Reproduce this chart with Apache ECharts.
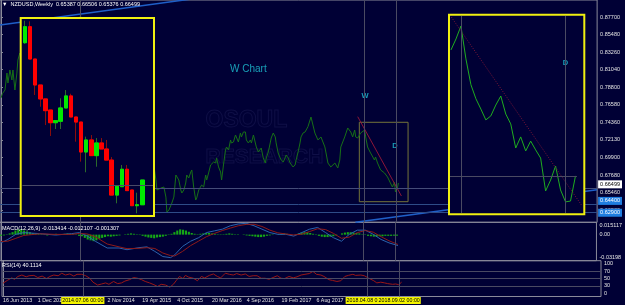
<!DOCTYPE html>
<html><head><meta charset="utf-8">
<script src="https://cdn.jsdelivr.net/npm/echarts@6/dist/echarts.min.js"></script>
<style>html,body{margin:0;padding:0;background:#000035;}#c{width:625px;height:305px;}</style>
</head><body><div id="c"></div>
<script>
// ---------------- DATA ----------------
// main weekly line (week index from 16 Jun 2013, close)
const mainWeeks = [0,1,2.75,4.12,4.81,6.18,7.55,8.24,9.62,10.99,11.68,13.05,
14,16,18,20,22,24,26,28,30,32,34,36,38,40,42,44,46,48,50,52,54,
55,56,57,58,59,60,61,62,63,64,65,66,67,68,69,70,71,72,73,74,75,76,77,78,
80,82,84,86,88,90,92,94,96,98,100,102,104,105.5,
107.1,107.8,110.6,112.6,114.0,114.7,116.1,118.1,119.5,120.9,121.6,122.9,124.3,125.0,126.4,127.7,128.4,129.8,131.2,131.9,
133.2,134.6,135.3,136.7,138.0,138.7,140.1,141.5,142.2,143.5,144.9,145.6,147.0,148.4,149.0,150.4,151.8,152.5,153.8,155.2,
155.9,157.3,158.7,159.3,160.7,162.1,162.8,164.1,165.5,166.2,167.6,169.0,169.6,171.0,172.4,173.1,174.5,175.8,176.5,177.9,
179.9,181.3,182.7,183.4,184.8,186.1,186.8,188.2,189.6,190.2,191.6,193.0,193.7,195.1,196.4,197.1,198.5,199.9,200.5,201.9,
203.3,204.0,205.4,206.7,207.4,208.8,210.2,212.2,214.3,217.0,219.1,221.2,223.9,226.0,228.0,230.8,232.8,234.2,234.9,237.6,
239.7,241.8,243.1,244.5,245.2,246.6,248.6,251.4,252.1,253.4,255.5,258.2,258.9,260.3,262.4,265.1,267.2,269.2,270.6,272.0,
272.7,274.0,274.7];
const mainCloses = [0.7744,0.7800,0.7845,0.8060,0.7934,0.8099,0.7972,0.8099,0.7845,0.8060,0.8225,0.8314,
0.8280,0.8180,0.8250,0.8350,0.8320,0.8250,0.8200,0.8300,0.8050,0.8250,0.8350,0.8300,0.8450,0.8600,0.8550,0.8500,0.8580,0.8650,0.8520,0.8690,0.8700,
0.8798,0.8594,0.8430,0.8342,0.8268,0.8192,0.8205,0.8285,0.8361,0.8228,0.8196,0.8007,0.8083,0.7984,0.8064,0.8026,0.7956,0.7735,0.7792,0.7898,0.7763,0.7668,0.7674,0.7830,
0.7770,0.7600,0.7420,0.7450,0.7380,0.7500,0.7300,0.7550,0.7620,0.7450,0.7120,0.7050,0.7000,0.6920,
0.6705,0.6578,0.6603,0.6616,0.6489,0.6299,0.6325,0.6413,0.6489,0.6768,0.6743,0.6705,0.6578,0.6540,0.6578,0.6667,0.6768,0.6730,0.6806,0.6832,
0.6616,0.6451,0.6477,0.6578,0.6603,0.6641,0.6616,0.6768,0.6705,0.6794,0.6895,0.6870,0.6933,0.6920,0.6984,0.6870,0.6806,0.6705,0.6895,0.7085,
0.7123,0.7085,0.7212,0.7174,0.7186,0.7275,0.7250,0.7186,0.7300,0.7250,0.7313,0.7313,0.7212,0.7174,0.7212,0.7174,0.7275,0.7250,0.7123,0.7060,
0.7110,0.6984,0.6920,0.6984,0.7060,0.7174,0.7237,0.7300,0.7250,0.7174,0.7047,0.6984,0.6958,0.6933,0.6984,0.7022,0.6984,0.6920,0.6933,0.6870,
0.6895,0.6958,0.7060,0.7174,0.7250,0.7300,0.7313,0.7380,0.7503,0.7300,0.7212,0.7250,0.7123,0.6920,0.6870,0.6920,0.6857,0.6958,0.7123,0.7250,
0.7364,0.7313,0.7250,0.7338,0.7250,0.7237,0.7300,0.7338,0.7250,0.7123,0.7047,0.6958,0.6996,0.6920,0.6832,0.6794,0.6743,0.6667,0.6616,0.6679,
0.6553,0.6603,0.6667];

const priceTicks = [0.87700,0.85480,0.83260,0.81040,0.78800,0.76580,0.74360,0.72130,0.69900,0.67680,0.65460,0.63230];
const levelPrices = [0.66499, 0.64400, 0.62900];
const markerWeeks = [55, 251, 273];
const markerLabels = ['2014.07.06 00:00','2018.04.08 00:00','2018.09.02 00:00'];
const dateWeeks = [0,24,48,72,96,120,144,168,192,216,240,264];
const dateLabels = ['16 Jun 2013','1 Dec 2013','18 May 2014','2 Nov 2014','19 Apr 2015','4 Oct 2015','20 Mar 2016','4 Sep 2016','19 Feb 2017','6 Aug 2017','21 Jan 2018','8 Jul 2018'];

// channel / trend lines (week, price)
const channelUpper = [[-0.7,0.8668],[140,0.9019]];
const channelLower = [[245,0.6169],[412,0.6580]];
const trendMain = [[246.6,0.7507],[276.8,0.6502]];
const boxMain = [[247.7,0.7436],[281.4,0.6430]];

// annotations (week, price, text)
const notes = [[171.0,0.8111,'W Chart'],[251.6,0.7769,'W'],[272.4,0.7139,'D']];

// MACD
const macdWeeks = [0,4.8,10.3,15.8,26.8,37.8,48.8,54.3,59.8,65.2,73.5,81.7,87.2,95.5,101,106.5,112,117.4,120.2,125.7,
131.2,136.7,142.2,147.7,153.2,158.7,164.1,169.6,175.1,180.6,186.1,191.6,197.1,202.6,208.1,213.6,219.1,224.6,230.1,235.6,
241.1,246.6,252.1,257.6,263,268.5,274.7];
const macdMain = [-0.0101,-0.0059,0.0004,0.0025,0.0012,-0.0005,0.0012,0.0025,-0.0018,-0.0081,-0.0164,-0.0164,-0.0185,-0.0160,-0.0150,-0.0206,-0.0269,-0.0282,-0.0248,-0.0144,
-0.0081,-0.0038,0.0025,0.0046,0.0067,0.0109,0.0130,0.0139,0.0109,0.0067,0.0025,0.0004,0.0004,-0.0018,0.0025,0.0067,0.0088,0.0025,-0.0038,-0.0081,
0.0004,0.0055,0.0055,0.0004,-0.0059,-0.0101,-0.0134];
const macdSignal = [-0.0085,-0.0080,-0.0045,-0.0010,0.0010,0.0003,0.0003,0.0015,0.0008,-0.0025,-0.0115,-0.0150,-0.0172,-0.0168,-0.0160,-0.0170,-0.0225,-0.0258,-0.0262,-0.0205,
-0.0135,-0.0080,-0.0025,0.0015,0.0050,0.0080,0.0108,0.0125,0.0128,0.0100,0.0055,0.0022,0.0008,-0.0004,0.0005,0.0038,0.0072,0.0062,0.0015,-0.0045,
-0.0030,0.0025,0.0050,0.0030,-0.0025,-0.0075,-0.0121];
// histogram, one bar every 2 weeks, in 1e-3
const histVals = [-1.5,-1,0.5,1.5,3,5,6.5,6.5,5,4,3,2,1.5,1,0.5,-0.5,-1,-0.5,0.5,1,0.5,0,1,1.5,1,0.5,-0.5,-1.5,
-2,-4,-6,-7,-8,-7,-5,-4,-3,-2,-2.5,-2,-1.5,-1,0,0.5,1,1.5,1,0.5,-0.5,-1.5,-2.5,-3.5,-4,-4.5,-3.5,-3,-2.5,-1.5,-0.5,
1,3,5,6.5,6,5,3.5,2,1,0.5,1,1.5,2,2,1.5,1,0.5,-0.5,0.5,1,1.5,1,0.5,0.5,0,-0.5,-1,-1.5,-2,-2.5,-3,-3,-2.5,-1.5,-1,-0.5,0,
0.5,1,1.5,1,0.5,0,0.5,1.5,2.5,3,3,2,1,-0.5,-1.5,-2.5,-3,-3,-2.5,-2,-1,0,1.5,2.5,3,3,2.5,2,1.5,0.5,
-0.5,-1.5,-2,-2.5,-2.5,-2,-2,-1.5,-1.5,-1.5,-1.3,-1.3];
const histWeeks = histVals.map((v,i)=>i*2);
const macdTicks = [0.015117, 0, -0.03198];
const macdTickLabels = ['0.015117','0.00','-0.03198'];

// RSI
const rsiWeeks = [0,3,6,8,10.3,13,16,18,21.3,24,27,30,32.3,35,38,40.5,43,46,48.8,51,54.3,57,59.8,62,65.2,68,70.7,73,76.2,79,81.7,84,87.2,90,92.7,95.5,98,101,104,106.5,
109,112,115,117.4,119.5,121.6,124,125.7,128,131.2,134,136.7,139,142.2,145,147.7,150,153.2,156,158.7,161,164.1,167,169.6,172.4,175.1,177.9,180.6,183.4,186.1,
189,191.6,194,197.1,200,202.6,205.4,208.1,211,213.6,216,219.1,221.2,224.6,227,230.1,232.8,235.6,238,241.1,243,246.6,249,252.1,255.5,257.6,260.3,263,265.1,268.5,
270.6,272.7,274.7];
const rsiVals = [37,45,52,48,56,60,55,58,59,53,57,50,56,60,58,65,60,63,57,62,62,58,51,40,32,35,38,34,42,36,38,43,47,53,51,47,42,38,33,28,
34,32,26,34,45,56,50,59,54,51,44,56,52,59,63,56,52,65,62,60,64,60,63,56,58,58,51,51,48,53,
58,51,50,56,52,55,60,62,64,70,62,60,56,47,45,42,44,56,59,62,59,60,58,51,44,38,40,38,36,34,
35,33,40.1];
const rsiTicks = [100,70,50,30,0];
const rsiLevels = [70,50,30];

// left inset: weekly candles from 2014-07-06
const candleDates = ['2014-07-06','2014-07-13','2014-07-20','2014-07-27','2014-08-03','2014-08-10','2014-08-17','2014-08-24','2014-08-31','2014-09-07','2014-09-14','2014-09-21',
'2014-09-28','2014-10-05','2014-10-12','2014-10-19','2014-10-26','2014-11-02','2014-11-09','2014-11-16','2014-11-23','2014-11-30','2014-12-07','2014-12-14','2014-12-21','2014-12-28'];
const candleOpen  = [0.8697,0.8798,0.8594,0.8430,0.8342,0.8272,0.8192,0.8201,0.8285,0.8361,0.8228,0.8196,0.8007,0.8083,0.7984,0.8064,0.8026,0.7956,0.7735,0.7788,0.7898,0.7767,0.7668,0.7674];
const candleClose = [0.8798,0.8594,0.8430,0.8342,0.8268,0.8192,0.8205,0.8285,0.8361,0.8228,0.8196,0.8007,0.8083,0.7984,0.8064,0.8026,0.7956,0.7735,0.7792,0.7898,0.7763,0.7668,0.7674,0.7830];
const candleLow   = [0.8690,0.8594,0.8367,0.8293,0.8177,0.8108,0.8152,0.8152,0.8285,0.8228,0.8072,0.7946,0.7879,0.7984,0.7914,0.8026,0.7956,0.7735,0.7683,0.7788,0.7763,0.7668,0.7620,0.7674];
const candleHigh  = [0.8836,0.8832,0.8594,0.8430,0.8342,0.8272,0.8205,0.8346,0.8398,0.8375,0.8228,0.8196,0.8104,0.8114,0.8095,0.8095,0.8083,0.7975,0.7792,0.7925,0.7925,0.7767,0.7750,0.7830];

// right inset: weekly closes from 2018-03-25
const insetCloses = [0.7224,0.7276,0.7338,0.7181,0.7058,0.6991,0.6942,0.6890,0.6909,0.6961,0.7004,0.6918,0.6871,0.6756,0.6809,0.6742,0.6789,0.6747,0.6708,0.6551,0.6603,0.6670,0.6556,0.6499,0.6503,0.6623];
const insetWeeks = insetCloses.map((v,i)=>i);
const insetMarkers = [2, 23];
const insetTrend = [[-0.2,0.7390],[26.2,0.6484]];
const insetNote = [23, 0.7163, 'D'];

// ---------------- CHART ----------------
const BG = '#000035';
const FONT = 'Liberation Sans, Arial, sans-serif';
const AX = '#8a8a9a';
const TXT = '#e4e4e4';
const X_MIN = -0.687, X_MAX = 412.09;
const pairs = (xs, ys) => xs.map((x,i)=>[x, ys[i]]);
const nearest = (arr, v) => { let b=0; arr.forEach((a,i)=>{ if (Math.abs(a-v) < Math.abs(arr[b]-v)) b=i; }); return b; };
const vMarks = markerWeeks.map(w => ({xAxis: w}));
const solid = (c) => ({type:'solid', width:1, color:c});

const candleData = candleOpen.map((o,i)=>[o, candleClose[i], candleLow[i], candleHigh[i]]);
const bodyData = candleOpen.map((o,i)=>[o, candleClose[i], Math.min(o,candleClose[i]), Math.max(o,candleClose[i])]);

const chart = echarts.init(document.getElementById('c'), null, {renderer:'canvas'});
const ts = (extra) => Object.assign({color:TXT, fontSize:5.5, fontWeight:'normal', fontFamily:FONT}, extra||{});

// one bottom axis per highlighted date label so they may overlap like the original
const markerAxes = markerWeeks.map((w, k) => ({
  type:'value', gridIndex:2, min:X_MIN, max:X_MAX, position:'bottom',
  axisLine:{show:false}, axisTick:{show:false}, splitLine:{show:false},
  axisLabel:{customValues:[w], formatter: () => markerLabels[k], hideOverlap:false,
    align:'center', margin:0.5, color:'#000', backgroundColor:'#f4f400', padding:[1,1,1,1], fontSize:5.3, fontFamily:FONT}
}));

const option = {
  animation: false,
  backgroundColor: BG,
  title: [
    {text:'\u25BC  NZDUSD,Weekly  0.65387 0.66506 0.65376 0.66499', left:2, top:1.5, padding:0, textStyle: ts({color:'#ffffff'})},
    {text:'MACD(12,26,9) -0.013414 -0.012107 -0.001307', left:2, top:225, padding:0, textStyle: ts({color:'#ffffff'})},
    {text:'RSI(14) 40.1114', left:2, top:262, padding:0, textStyle: ts({color:'#ffffff'})}
  ],
  grid: [
    {left:0, top:0, width:601, height:222.3, show:true, borderColor:AX, borderWidth:1},
    {left:0, top:222.3, width:601, height:38.4, show:true, borderColor:AX, borderWidth:1},
    {left:0, top:260.7, width:601, height:35.8, show:true, borderColor:AX, borderWidth:1},
    {left:22.45, top:19, width:132.6, height:196, show:false},
    {left:449, top:16, width:135, height:197, show:false}
  ],
  xAxis: [
    {type:'value', gridIndex:0, min:X_MIN, max:X_MAX, show:false},
    {type:'value', gridIndex:1, min:X_MIN, max:X_MAX, show:false},
    {type:'value', gridIndex:2, min:X_MIN, max:X_MAX, position:'bottom',
      axisLine:{show:false}, axisTick:{show:false}, splitLine:{show:false},
      axisLabel:{customValues: dateWeeks, formatter: v => dateLabels[nearest(dateWeeks, v)], hideOverlap:false,
        align:'left', margin:1.5, color:TXT, fontSize:5.3, fontFamily:FONT}},
    {type:'category', gridIndex:3, data: candleDates, boundaryGap:true, show:false},
    {type:'value', gridIndex:4, min:-0.4, max:26.71, show:false}
  ].concat(markerAxes),
  yAxis: [
    {type:'value', gridIndex:0, position:'right', min:0.61689, max:0.89854, splitLine:{show:false},
      axisLine:{show:true, lineStyle:{color:AX}},
      axisTick:{show:true, length:2, customValues: priceTicks, lineStyle:{color:AX}},
      axisLabel:{customValues: priceTicks, formatter: v => v.toFixed(5), color:TXT, fontSize:5.5, margin:3, fontFamily:FONT}},
    {type:'value', gridIndex:0, position:'right', min:0.61689, max:0.89854, splitLine:{show:false},
      axisLine:{show:false}, axisTick:{show:false},
      axisLabel:{customValues: levelPrices, margin:1, hideOverlap:false,
        formatter: v => { const i = nearest(levelPrices, v); return (i===0?'{w|':'{b|') + levelPrices[i].toFixed(5) + '}'; },
        rich:{
          w:{backgroundColor:'#ffffff', color:'#000000', fontSize:5.5, fontFamily:FONT, padding:[1,2,1,2]},
          b:{backgroundColor:'#1f7ee0', color:'#ffffff', fontSize:5.5, fontFamily:FONT, padding:[1,2,1,2]}
        }}},
    {type:'value', gridIndex:1, position:'right', min:-0.03198, max:0.015117, splitLine:{show:false},
      axisLine:{show:true, lineStyle:{color:AX}}, axisTick:{show:false},
      axisLabel:{customValues: macdTicks, margin:3,
        formatter: v => { const i = nearest(macdTicks, v); return ['{t|','{m|','{b|'][i] + macdTickLabels[i] + '}'; },
        rich:{
          t:{color:TXT, fontSize:5.5, fontFamily:FONT, padding:[7,0,0,0]},
          m:{color:TXT, fontSize:5.5, fontFamily:FONT},
          b:{color:TXT, fontSize:5.5, fontFamily:FONT, padding:[0,0,7,0]}
        }}},
    {type:'value', gridIndex:2, position:'right', min:0, max:100, splitLine:{show:false},
      axisLine:{show:true, lineStyle:{color:AX}}, axisTick:{show:false},
      axisLabel:{customValues: rsiTicks, margin:3,
        formatter: v => { const i = nearest(rsiTicks, v); const s = String(rsiTicks[i]); return (i===0?'{t|':(i===rsiTicks.length-1?'{b|':'{m|')) + s + '}'; },
        rich:{
          t:{color:TXT, fontSize:5.5, fontFamily:FONT, padding:[6,0,0,0]},
          m:{color:TXT, fontSize:5.5, fontFamily:FONT},
          b:{color:TXT, fontSize:5.5, fontFamily:FONT, padding:[0,0,6,0]}
        }}},
    {type:'value', gridIndex:3, min:0.76092, max:0.88467, show:false},
    {type:'value', gridIndex:4, min:0.6446, max:0.73857, show:false}
  ],
  graphic: [
    {type:'text', left:205, top:109, z:1, silent:true,
      style:{text:'OSOUL', font:'bold 23px Liberation Sans', fill:'rgba(0,0,0,0)', stroke:'#0f0f47', lineWidth:1}},
    {type:'text', left:205, top:146, z:1, silent:true,
      style:{text:'RESEARCH', font:'bold 21px Liberation Sans', fill:'rgba(0,0,0,0)', stroke:'#0f0f47', lineWidth:1}},
    {type:'rect', z:10, silent:true, shape:{x:20.7, y:18, width:133.3, height:198}, style:{fill:BG}},
    {type:'rect', z:10, silent:true, shape:{x:449, y:14.7, width:135.3, height:199.6}, style:{fill:BG}},
    {type:'rect', z:30, silent:true, shape:{x:20.7, y:18, width:133.3, height:198}, style:{fill:'none', stroke:'#f0f010', lineWidth:2}},
    {type:'rect', z:30, silent:true, shape:{x:449, y:14.7, width:135.3, height:199.6}, style:{fill:'none', stroke:'#f0f010', lineWidth:2}}
  ],
  series: [
    {type:'line', xAxisIndex:0, yAxisIndex:0, data: pairs(mainWeeks, mainCloses), symbol:'none', z:3,
      lineStyle:{color:'#177017', width:1},
      markLine:{silent:true, symbol:'none', label:{show:false}, lineStyle:{type:'solid', width:1},
        data:[
          {yAxis: levelPrices[0], lineStyle: solid('#454c78')},
          {yAxis: levelPrices[1], lineStyle: solid('#2e4c88')},
          {yAxis: levelPrices[2], lineStyle: solid('#2e4c88')}
        ].concat(vMarks.map(m => Object.assign({lineStyle: solid('#4a4a62')}, m)))},
      markArea:{silent:true, itemStyle:{color:'rgba(0,0,0,0)', borderColor:'#74743a', borderWidth:1},
        data:[[{coord: boxMain[0]},{coord: boxMain[1]}]]}},
    {type:'line', xAxisIndex:0, yAxisIndex:0, data: trendMain, symbol:'none', z:4, lineStyle:{color:'#8c1638', width:1}},
    {type:'line', xAxisIndex:0, yAxisIndex:0, data: channelUpper, symbol:'none', z:2, lineStyle:{color:'#1f5fc8', width:1.5}},
    {type:'line', xAxisIndex:0, yAxisIndex:0, data: channelLower, symbol:'none', z:2, lineStyle:{color:'#1f5fc8', width:1.5}},
    {type:'scatter', xAxisIndex:0, yAxisIndex:0, symbolSize:0, z:4,
      data: notes.map(n => ({value:[n[0], n[1]], label:{show:true, position:'inside', formatter:n[2],
        color:'#1ec6d8', fontFamily:FONT, fontSize: n[2].length > 1 ? 10 : 7.5, fontWeight: n[2].length > 1 ? 'normal' : 'bold'}}))},
    // MACD
    {type:'bar', xAxisIndex:1, yAxisIndex:2, data: histWeeks.map((w,i)=>[w, histVals[i]/1000]), barWidth:2.1, z:2,
      itemStyle:{color:'#16a816'}},
    {type:'line', xAxisIndex:1, yAxisIndex:2, data: pairs(macdWeeks, macdMain), symbol:'none', z:3, lineStyle:{color:'#2a62ad', width:1},
      markLine:{silent:true, symbol:'none', label:{show:false}, lineStyle:{type:'solid', width:1, color:'#4a4a62'}, data: vMarks}},
    {type:'line', xAxisIndex:1, yAxisIndex:2, data: pairs(macdWeeks, macdSignal), symbol:'none', z:3, lineStyle:{color:'#8e1a1a', width:1}},
    // RSI
    {type:'line', xAxisIndex:2, yAxisIndex:3, data: pairs(rsiWeeks, rsiVals), symbol:'none', z:3, lineStyle:{color:'#9a1616', width:1},
      markLine:{silent:true, symbol:'none', label:{show:false}, lineStyle:{type:'solid', width:1, color:'#4a4a62'},
        data: rsiLevels.map(l => ({yAxis:l})).concat(vMarks)}},
    // left inset candles
    {type:'candlestick', xAxisIndex:3, yAxisIndex:4, data: candleData, barWidth:4, z:20,
      itemStyle:{color:'#2b6a2b', color0:'#8a0c0c', borderColor:'#2b6a2b', borderColor0:'#8a0c0c', borderWidth:1},
      markLine:{silent:true, z:25, symbol:'none', label:{show:false}, lineStyle:{type:'solid', width:1, color:'#4a4a66'},
        data:[{yAxis: candleClose[candleClose.length-1]}]}},
    {type:'candlestick', xAxisIndex:3, yAxisIndex:4, data: bodyData, barWidth:4, z:21,
      itemStyle:{color:'#00ea00', color0:'#ff0000', borderColor:'#00ea00', borderColor0:'#ff0000', borderWidth:1}},
    // right inset
    {type:'line', xAxisIndex:4, yAxisIndex:5, data: pairs(insetWeeks, insetCloses), symbol:'none', z:21,
      lineStyle:{color:'#1fae1f', width:1},
      markLine:{silent:true, z:25, symbol:'none', label:{show:false}, lineStyle:{type:'solid', width:1, color:'#4a4a62'},
        data: insetMarkers.map(w => ({xAxis:w})).concat([[{coord:[-0.3, insetCloses[insetCloses.length-1]]},{coord:[25.3, insetCloses[insetCloses.length-1]]}]])}},
    {type:'line', xAxisIndex:4, yAxisIndex:5, data: insetTrend, symbol:'none', z:22, lineStyle:{color:'#7c1638', width:1, type:[1,1.5]}},
    {type:'scatter', xAxisIndex:4, yAxisIndex:5, symbolSize:0, z:23,
      data:[{value:[insetNote[0], insetNote[1]], label:{show:true, position:'inside', formatter: insetNote[2], color:'#1ec6d8', fontSize:7.5, fontWeight:'bold', fontFamily:FONT}}]}
  ]
};
chart.setOption(option);
</script>
</body></html>
